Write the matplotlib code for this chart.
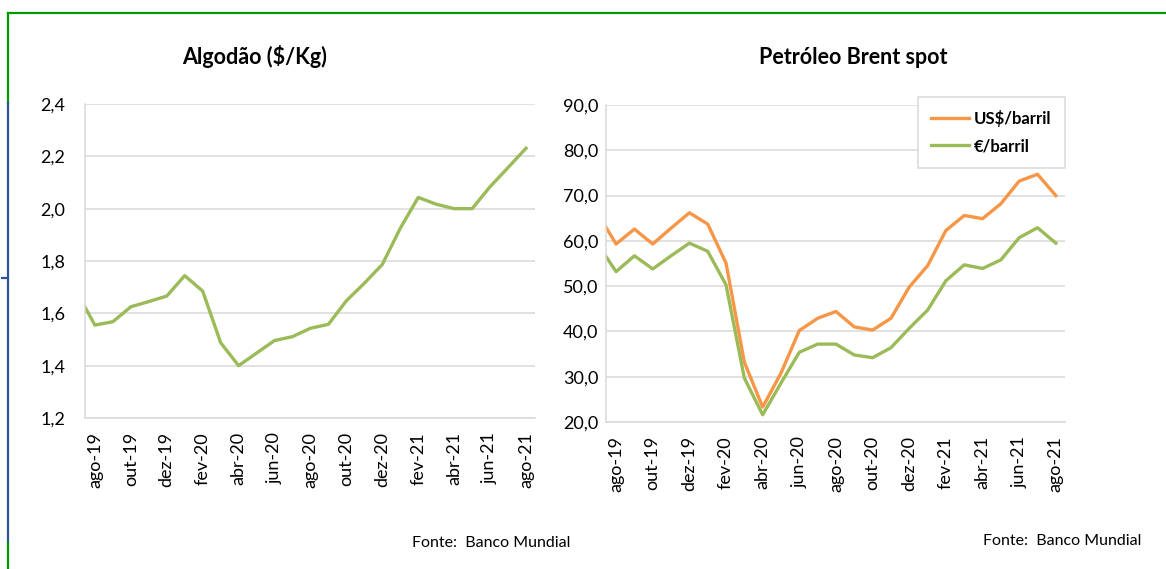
import matplotlib.pyplot as plt
from matplotlib.lines import Line2D
from matplotlib.ticker import FuncFormatter

plt.rcParams['font.family'] = ['Lato', 'DejaVu Sans']

# monthly series, jul-19 .. ago-21 (jul-19 only shows as the clipped start of the line)
meses = ['jul-19', 'ago-19', 'set-19', 'out-19', 'nov-19', 'dez-19',
         'jan-20', 'fev-20', 'mar-20', 'abr-20', 'mai-20', 'jun-20',
         'jul-20', 'ago-20', 'set-20', 'out-20', 'nov-20', 'dez-20',
         'jan-21', 'fev-21', 'mar-21', 'abr-21', 'mai-21', 'jun-21',
         'jul-21', 'ago-21']
algodao = [1.68, 1.555, 1.568, 1.625, 1.645, 1.666, 1.744, 1.685, 1.488, 1.40,
           1.448, 1.496, 1.511, 1.543, 1.558, 1.648, 1.715, 1.787, 1.925, 2.043,
           2.017, 2.00, 2.00, 2.084, 2.157, 2.231]
brent_usd = [66.0, 59.3, 62.6, 59.3, 62.8, 66.2, 63.7, 55.1, 33.2, 23.3,
             30.8, 40.2, 42.9, 44.4, 41.0, 40.3, 42.9, 49.8, 54.5, 62.3,
             65.6, 64.9, 68.2, 73.2, 74.7, 70.0]
brent_eur = [59.3, 53.2, 56.7, 53.8, 56.7, 59.5, 57.7, 50.3, 29.7, 21.6,
             28.6, 35.4, 37.2, 37.2, 34.8, 34.2, 36.4, 40.7, 44.7, 51.2,
             54.7, 53.9, 55.8, 60.7, 62.9, 59.5]

ORANGE = '#F79646'
GREEN = '#9BBB59'
GRID = '#d9d9d9'

x = list(range(len(meses)))
tick_pos = x[1::2]
tick_lab = meses[1::2]

fig = plt.figure(figsize=(11.66, 5.69), dpi=100)
W, H = 1166, 569


def px_axes(x0, y0, x1, y1):
    return fig.add_axes([x0 / W, 1 - y1 / H, (x1 - x0) / W, (y1 - y0) / H])


def style(ax, ylim, step, fmt, ypad):
    ax.set_xlim(0.45, 25.5)
    ax.set_ylim(*ylim)
    ax.set_yticks([ylim[0] + i * step for i in range(int(round((ylim[1] - ylim[0]) / step)) + 1)])
    ax.yaxis.set_major_formatter(FuncFormatter(lambda v, p: fmt.format(v).replace('.', ',')))
    ax.set_xticks(tick_pos)
    ax.set_xticklabels(tick_lab, rotation=90)
    ax.grid(axis='y', color=GRID, lw=1.1)
    ax.set_axisbelow(True)
    for s in ['top', 'right']:
        ax.spines[s].set_visible(False)
    for s in ['left', 'bottom']:
        ax.spines[s].set_color(GRID)
        ax.spines[s].set_linewidth(1.1)
    ax.tick_params(axis='both', length=0, labelsize=13, colors='black')
    ax.tick_params(axis='x', pad=10)
    ax.tick_params(axis='y', pad=ypad)


ax1 = px_axes(85, 104, 535, 418)
ax1.plot(x, algodao, color=GREEN, lw=2.4, solid_joinstyle='round')
style(ax1, (1.2, 2.4), 0.2, '{:.1f}', 14)

ax2 = px_axes(606, 105, 1065, 422)
ax2.plot(x, brent_usd, color=ORANGE, lw=2.4, label='US$/barril', solid_joinstyle='round')
ax2.plot(x, brent_eur, color=GREEN, lw=2.4, label='€/barril', solid_joinstyle='round')
style(ax2, (20, 90), 10, '{:.1f}', 5.5)

leg = ax2.legend(loc='upper right', bbox_to_anchor=(1065 / W, 1 - 97 / H),
                 bbox_transform=fig.transFigure, borderaxespad=0, fancybox=False,
                 edgecolor=GRID, framealpha=1, prop={'weight': 'bold', 'size': 12},
                 handlelength=2.3, handletextpad=0.3, labelspacing=0.65, borderpad=0.8)
leg.get_frame().set_linewidth(1.1)

fig.text(255 / W, 1 - 64 / H, 'Algodão ($/Kg)', ha='center', va='baseline',
         fontsize=15.5, fontweight='bold')
fig.text(853 / W, 1 - 64 / H, 'Petróleo Brent spot', ha='center', va='baseline',
         fontsize=15.5, fontweight='bold')

fig.text(570 / W, 1 - 543 / H, 'Fonte:  Banco Mundial', ha='right', va='center', fontsize=11.5)
fig.text(1141 / W, 1 - 541 / H, 'Fonte:  Banco Mundial', ha='right', va='center', fontsize=11.5)

# frame around the page
lines = [
    ((8, 1166), (13, 13), '#009900'),
    ((8, 8), (13, 103), '#009900'),
    ((8, 8), (103, 543), '#2F5597'),
    ((8, 8), (543, 569), '#009900'),
    ((2, 8), (278, 278), '#2F5597'),
]
for xs, ys, c in lines:
    fig.add_artist(Line2D([v / W for v in xs], [1 - v / H for v in ys], color=c, lw=1.6,
                          transform=fig.transFigure))

fig.savefig('out.png', dpi=100)
